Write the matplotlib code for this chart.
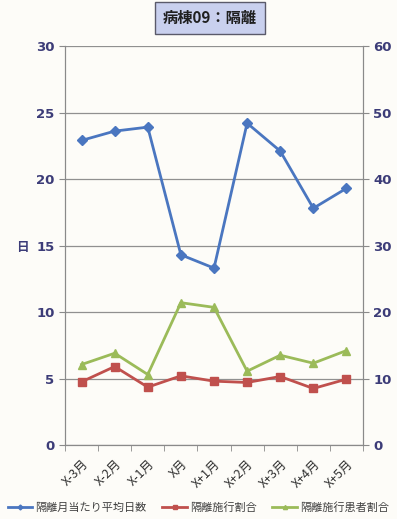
import matplotlib

matplotlib.use("Agg")
import matplotlib.pyplot as plt
from matplotlib.ticker import MultipleLocator, FixedLocator

plt.rcParams["font.family"] = ["DejaVu Sans", "Noto Sans CJK JP"]

months = ["X-3月", "X-2月", "X-1月", "X月", "X+1月", "X+2月", "X+3月", "X+4月", "X+5月"]
avg_days = [22.9, 23.6, 23.9, 14.3, 13.3, 24.2, 22.1, 17.8, 19.3]
isolation_rate = [9.5, 11.8, 8.7, 10.4, 9.6, 9.4, 10.3, 8.5, 9.9]
patient_rate = [12.1, 13.8, 10.6, 21.4, 20.7, 11.1, 13.5, 12.3, 14.2]

title = "病棟09：隔離"
names = ["隔離月当たり平均日数", "隔離施行割合", "隔離施行患者割合"]

blue = "#4a76c0"
red = "#c0504d"
green = "#9bbb59"
tick_color = "#3c3c78"
jp = ["Noto Sans CJK JP", "DejaVu Sans"]

fig = plt.figure(figsize=(3.97, 5.19), dpi=100)
fig.patch.set_facecolor("#fdfcf8")
ax = fig.add_axes([65 / 397, 1 - 445 / 519, 298 / 397, 399 / 519])
ax.set_facecolor("#fdfcf8")
ax2 = ax.twinx()

x = list(range(len(months)))
l1, = ax.plot(x, avg_days, color=blue, lw=2, marker="D", ms=5, label=names[0])
l2, = ax2.plot(x, isolation_rate, color=red, lw=2, marker="s", ms=6, label=names[1])
l3, = ax2.plot(x, patient_rate, color=green, lw=2, marker="^", ms=6, label=names[2])

ax.set_xlim(-0.5, len(months) - 0.5)
ax.set_ylim(0, 30)
ax2.set_ylim(0, 60)
ax.yaxis.set_major_locator(MultipleLocator(5))
ax2.yaxis.set_major_locator(MultipleLocator(10))
ax.grid(axis="y", color="#909090", lw=0.9)
ax.set_axisbelow(True)

ax.set_xticks(x)
ax.set_xticklabels(months, rotation=45, ha="right", rotation_mode="anchor",
                   fontsize=9, family=jp, color="#303030")
ax.xaxis.set_minor_locator(FixedLocator([i - 0.5 for i in range(len(months) + 1)]))
ax.tick_params(axis="x", which="major", length=0, pad=9)
ax.tick_params(axis="x", which="minor", length=4, color="#8a8a8a")

for a in (ax, ax2):
    a.tick_params(axis="y", length=4, color="#8a8a8a", labelsize=9.5, labelcolor=tick_color)
    for lab in a.get_yticklabels():
        lab.set_fontweight("bold")
    a.spines["top"].set_visible(False)
    for side in ("left", "right", "bottom"):
        a.spines[side].set_color("#8a8a8a")

fig.text(22 / 397, 1 - 248 / 519, "日", family=jp, fontsize=9, fontweight="bold",
         color=tick_color, ha="center", va="center")

fig.text(210 / 397, 1 - 18 / 519, title, family=jp, fontsize=11, fontweight="bold",
         ha="center", va="center", color="#202020",
         bbox=dict(boxstyle="square,pad=0.55", facecolor="#c9d0ee", edgecolor="#5a5a6a", lw=1))

leg = fig.legend(handles=[l1, l2, l3], loc="lower center", bbox_to_anchor=(0.5, -0.008),
                 ncol=3, frameon=False, prop={"family": jp, "size": 8},
                 handlelength=2.2, markerscale=0.5, columnspacing=1.4, handletextpad=0.3)
for t in leg.get_texts():
    t.set_color("#404040")

fig.savefig("out.png", dpi=100, facecolor=fig.get_facecolor())
